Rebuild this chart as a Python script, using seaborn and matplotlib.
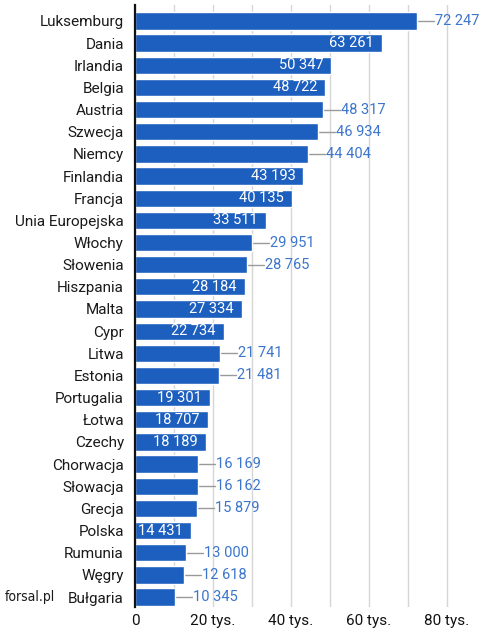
import matplotlib
matplotlib.use("Agg")
import matplotlib.pyplot as plt
import seaborn as sns
import pandas as pd

countries = ["Luksemburg", "Dania", "Irlandia", "Belgia", "Austria", "Szwecja", "Niemcy",
             "Finlandia", "Francja", "Unia Europejska", "Włochy", "Słowenia", "Hiszpania",
             "Malta", "Cypr", "Litwa", "Estonia", "Portugalia", "Łotwa", "Czechy",
             "Chorwacja", "Słowacja", "Grecja", "Polska", "Rumunia", "Węgry", "Bułgaria"]
values = [72247, 63261, 50347, 48722, 48317, 46934, 44404, 43193, 40135, 33511, 29951,
          28765, 28184, 27334, 22734, 21741, 21481, 19301, 18707, 18189, 16169, 16162,
          15879, 14431, 13000, 12618, 10345]
outside_labels = ["Luksemburg", "Austria", "Szwecja", "Niemcy", "Włochy", "Słowenia",
                  "Litwa", "Estonia", "Chorwacja", "Słowacja", "Grecja", "Rumunia",
                  "Węgry", "Bułgaria"]
tick_values = [0, 20000, 40000, 60000, 80000]
tick_labels = ["0", "20 tys.", "40 tys.", "60 tys.", "80 tys."]
source = "forsal.pl"

sns.set_theme(style="white")
plt.rcParams["font.family"] = ["Roboto", "DejaVu Sans"]

df = pd.DataFrame({"country": countries, "value": values})

fig = plt.figure(figsize=(4.81, 6.33), dpi=100)
ax = fig.add_axes([135 / 481, 1 - 607 / 633, 1 - 135 / 481, (607 - 5) / 633])

bar_color = "#1d5fbe"
sns.barplot(data=df, y="country", x="value", orient="h", color=bar_color,
            width=0.78, saturation=1, ax=ax, zorder=3)

xmax = 88700
ax.set_xlim(0, xmax)
ax.set_ylim(26.45, -0.72)

grid_ticks = list(range(0, 90000, 10000))
ax.set_xticks(grid_ticks)
ax.set_xticklabels([tick_labels[tick_values.index(t)] if t in tick_values else "" for t in grid_ticks],
                   fontsize=11, color="#111111")
ax.tick_params(axis="x", length=0, pad=5)
ax.tick_params(axis="y", length=0, pad=8, labelsize=11, labelcolor="#1a1a1a")
ax.xaxis.grid(True, color="#d6d6d6", linewidth=1.0, zorder=0)
ax.yaxis.grid(False)
ax.set_xlabel("")
ax.set_ylabel("")
for s in ["top", "right", "bottom"]:
    ax.spines[s].set_visible(False)
ax.spines["left"].set_color("#111111")
ax.spines["left"].set_linewidth(1.6)
ax.spines["left"].set_zorder(5)

px = xmax / (481 - 135)  # data units per pixel
for i, (c, v) in enumerate(zip(countries, values)):
    txt = f"{v:,}".replace(",", " ")
    if c in outside_labels:
        ax.plot([v, v + 17 * px], [i, i], color="#9a9a9a", linewidth=1.0, zorder=2,
                clip_on=False)
        ax.text(v + 18 * px, i, txt, va="center", ha="left", fontsize=10.5,
                color="#3b75cc", clip_on=False)
    else:
        ax.text(v - 8 * px, i, txt, va="center", ha="right", fontsize=10.5,
                color="white", zorder=4)

fig.text(5 / 481, 1 - 597 / 633, source, ha="left", va="center", fontsize=10,
         fontstretch="condensed", family=["DejaVu Sans"], color="#1a1a1a")

fig.savefig("out.png", dpi=100)
